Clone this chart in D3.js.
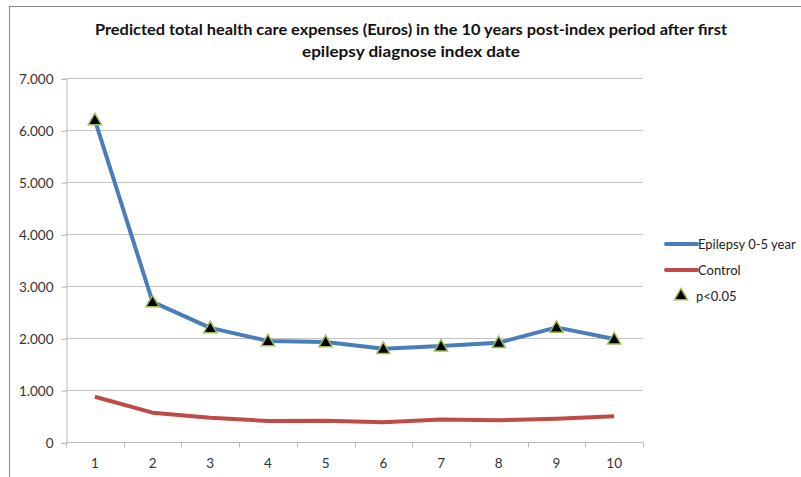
<!DOCTYPE html>
<html>
<head>
<meta charset="utf-8">
<script src="https://cdn.jsdelivr.net/npm/d3@7"></script>
<style>
  html, body { margin: 0; padding: 0; background: #fff; }
  svg { display: block; font-family: Lato, "Open Sans", "Liberation Sans", Arial, sans-serif; }
</style>
</head>
<body>
<svg id="chart" width="801" height="477"></svg>
<script>
// Years after the index date
const years = [1, 2, 3, 4, 5, 6, 7, 8, 9, 10];
// Predicted total health care expenses (Euros)
const epilepsy = [6200, 2700, 2200, 1950, 1930, 1800, 1850, 1915, 2210, 1985];
const control  = [875, 570, 470, 410, 415, 385, 440, 425, 455, 500];
// Years where the difference is significant (p<0.05)
const significant = [1, 2, 3, 4, 5, 6, 7, 8, 9, 10];
const yTicks = [0, 1000, 2000, 3000, 4000, 5000, 6000, 7000];
const titleLines = [
  "Predicted total health care expenses (Euros) in the 10 years post-index period after first",
  "epilepsy diagnose index date"
];
const seriesNames = ["Epilepsy 0-5 year", "Control", "p<0.05"];

const svg = d3.select("#chart");
const plot = { left: 66, right: 643, top: 78.3, bottom: 442.3 };
const labelFont = "Lato, 'Open Sans', 'Liberation Sans', Arial, sans-serif";

// Outer chart frame
svg.append("rect")
  .attr("x", 9.5).attr("y", 6.5)
  .attr("width", 820).attr("height", 500)
  .attr("fill", "none").attr("stroke", "#888").attr("stroke-width", 1);

// Title
svg.selectAll("text.title").data(titleLines).enter().append("text")
  .attr("class", "title")
  .attr("x", 411).attr("y", (d, i) => 35 + i * 22)
  .attr("text-anchor", "middle")
  .style("font-family", labelFont)
  .style("font-size", "15px").style("font-weight", "bold").attr("fill", "#111")
  .attr("textLength", (d, i) => i === 0 ? 632 : 218)
  .attr("lengthAdjust", "spacingAndGlyphs")
  .text(d => d);

const x = d3.scaleBand().domain(years).range([plot.left, plot.right]);
const y = d3.scaleLinear().domain([0, 7000]).range([plot.bottom, plot.top]);

// Horizontal gridlines
svg.append("g").selectAll("line").data(yTicks.slice(1)).enter().append("line")
  .attr("x1", plot.left).attr("x2", plot.right)
  .attr("y1", d => Math.round(y(d)) + 0.5).attr("y2", d => Math.round(y(d)) + 0.5)
  .attr("stroke", "#c4c4c4").attr("stroke-width", 1);

// Y axis
const yAxis = d3.axisLeft(y).tickValues(yTicks).tickSize(5).tickPadding(8)
  .tickFormat(d => d === 0 ? "0" : d3.format(",")(d).replace(",", "."));
const gy = svg.append("g").attr("transform", `translate(${plot.left + 0.5},0.5)`).call(yAxis);
gy.select(".domain").attr("stroke", "#b8b8b8");
gy.selectAll(".tick line").attr("stroke", "#b8b8b8");
gy.selectAll(".tick text").attr("fill", "#333")
  .style("font-family", labelFont).style("font-size", "13.5px");

// X axis with ticks between categories
const gx = svg.append("g").attr("transform", `translate(0,${Math.round(plot.bottom) + 0.5})`);
gx.append("line").attr("x1", plot.left).attr("x2", plot.right)
  .attr("stroke", "#b8b8b8");
const bounds = years.map(d => x(d)).concat([plot.right]);
gx.selectAll("line.tk").data(bounds).enter().append("line")
  .attr("class", "tk")
  .attr("x1", d => Math.round(d) + 0.5).attr("x2", d => Math.round(d) + 0.5)
  .attr("y1", 0).attr("y2", 5).attr("stroke", "#b8b8b8");
gx.selectAll("text").data(years).enter().append("text")
  .attr("x", d => x(d) + x.bandwidth() / 2).attr("y", 25)
  .attr("text-anchor", "middle").attr("fill", "#333")
  .style("font-family", labelFont).style("font-size", "13.5px")
  .text(d => d);

const cx = d => x(d) + x.bandwidth() / 2;
const line = d3.line().x((d, i) => cx(years[i])).y(d => y(d));

svg.append("path").datum(control).attr("d", line)
  .attr("fill", "none").attr("stroke", "#be4b48").attr("stroke-width", 4)
  .attr("stroke-linejoin", "round");
svg.append("path").datum(epilepsy).attr("d", line)
  .attr("fill", "none").attr("stroke", "#4a7ebb").attr("stroke-width", 4)
  .attr("stroke-linejoin", "round");

// Significance markers
const tri = d3.symbol().type(d3.symbolTriangle).size(75);
svg.append("g").selectAll("path").data(significant).enter().append("path")
  .attr("d", tri)
  .attr("transform", d => `translate(${cx(d)},${y(epilepsy[years.indexOf(d)]) + 1})`)
  .attr("fill", "#000").attr("stroke", "#9bbb59").attr("stroke-width", 1.5);

// Legend
const legend = svg.append("g");
const legendY = [244, 270, 296];
const legendColors = ["#4a7ebb", "#be4b48"];
legendColors.forEach((c, i) => {
  legend.append("line").attr("x1", 666).attr("x2", 697)
    .attr("y1", legendY[i]).attr("y2", legendY[i])
    .attr("stroke", c).attr("stroke-width", 4).attr("stroke-linecap", "round");
});
legend.append("path").attr("d", tri)
  .attr("transform", `translate(681,${legendY[2]})`)
  .attr("fill", "#000").attr("stroke", "#9bbb59").attr("stroke-width", 1.5);
legend.selectAll("text").data(seriesNames).enter().append("text")
  .attr("x", (d, i) => i < 2 ? 698 : 696)
  .attr("y", (d, i) => legendY[i] + 5)
  .attr("fill", "#222")
  .style("font-family", labelFont).style("font-size", "13px")
  .text(d => d);
</script>
</body>
</html>
